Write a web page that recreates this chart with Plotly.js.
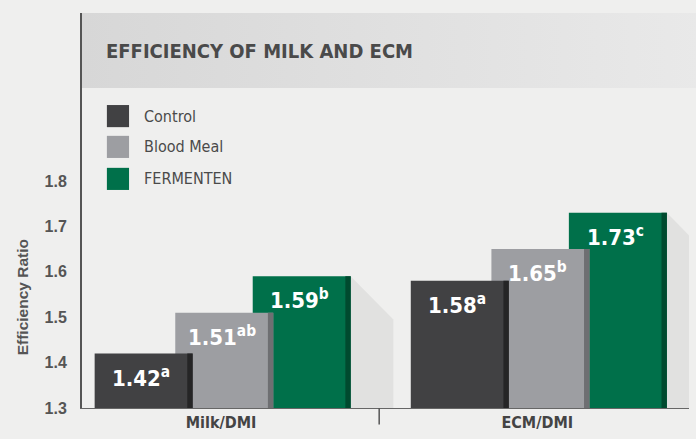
<!DOCTYPE html>
<html>
<head>
<meta charset="utf-8">
<script src="https://cdn.plot.ly/plotly-3.0.1.min.js"></script>
<style>
  html, body { margin: 0; padding: 0; background: #efefee; }
  #chart { width: 696px; height: 439px; }
</style>
</head>
<body>
<div id="chart"></div>
<script>
// Data
const categories = ['Milk/DMI', 'ECM/DMI'];
const seriesNames = ['Control', 'Blood Meal', 'FERMENTEN'];
const control = [1.42, 1.58];
const bloodMeal = [1.51, 1.65];
const fermenten = [1.59, 1.73];
const controlLetters = ['a', 'a'];
const bloodMealLetters = ['ab', 'b'];
const fermentenLetters = ['b', 'c'];
const yTicks = [1.3, 1.4, 1.5, 1.6, 1.7, 1.8];

// Styles
const COND = '"DejaVu Sans Condensed", "Liberation Sans Narrow", sans-serif';
const ARIAL = '"Liberation Sans", Arial, sans-serif';
const faceColors = ['#414143', '#9d9ea2', '#00704a'];
const sideColors = ['#252526', '#6e6f72', '#004a2f'];
const BAR_W = 0.31;
const SIDE_W = 0.017;
const offsets = [-0.40, -0.145, 0.10];

const series = [
  { name: seriesNames[0], y: control, letters: controlLetters },
  { name: seriesNames[1], y: bloodMeal, letters: bloodMealLetters },
  { name: seriesNames[2], y: fermenten, letters: fermentenLetters }
];

// Back-most series first so Control sits in front
const traces = [];
for (let s = series.length - 1; s >= 0; s--) {
  traces.push({
    type: 'bar', x: categories, y: series[s].y, name: series[s].name,
    width: BAR_W, offset: offsets[s],
    marker: { color: faceColors[s], line: { width: 0 } },
    hoverinfo: 'skip', showlegend: false
  });
  // darker right-hand side strip for the 3D look
  traces.push({
    type: 'bar', x: categories, y: series[s].y, name: series[s].name + ' side',
    width: SIDE_W, offset: offsets[s] + BAR_W - SIDE_W,
    marker: { color: sideColors[s], line: { width: 0 } },
    hoverinfo: 'skip', showlegend: false
  });
}

const shapes = [];
const annotations = [];

// soft shadows falling right of each bar
series.forEach((s, si) => {
  s.y.forEach((v, i) => {
    const xr = i + offsets[si] + BAR_W;
    shapes.push({
      type: 'path', layer: 'below', xref: 'x', yref: 'y',
      path: `M${xr},${v} L${xr + 0.135},${v - 0.095} L${xr + 0.135},1.3 L${xr},1.3 Z`,
      fillcolor: 'rgba(0,0,0,0.055)', line: { width: 0 }
    });
    // value labels with significance letters
    annotations.push({
      x: i + offsets[si] + (BAR_W - SIDE_W) / 2, y: v, xref: 'x', yref: 'y',
      yanchor: 'top', yshift: -7, showarrow: false,
      text: v.toFixed(2) + '<sup>' + s.letters[i] + '</sup>',
      font: { family: COND, size: 22, color: '#ffffff', weight: 'bold' }
    });
  });
});

// divider between the two groups
shapes.push({
  type: 'line', xref: 'x', yref: 'paper',
  x0: 0.5, x1: 0.5, y0: 0, y1: -0.042,
  line: { color: '#555555', width: 1.5 }
});

// legend drawn as squares + labels
const legendY = [0.739, 0.661, 0.580];
seriesNames.forEach((n, k) => {
  shapes.push({
    type: 'rect', xref: 'paper', yref: 'paper',
    x0: 0.041, x1: 0.0775, y0: legendY[k] - 0.028, y1: legendY[k] + 0.028,
    fillcolor: faceColors[k], line: { width: 0 }
  });
  annotations.push({
    x: 0.099, y: legendY[k], xref: 'paper', yref: 'paper',
    xanchor: 'left', yanchor: 'middle', showarrow: false, text: n,
    font: { family: COND, size: 16, color: '#4a4a4a' }
  });
});

// title
annotations.push({
  x: 0.037, y: 0.904, xref: 'paper', yref: 'paper',
  xanchor: 'left', yanchor: 'middle', showarrow: false,
  text: 'EFFICIENCY OF MILK AND ECM',
  font: { family: COND, size: 20, color: '#4a4a4a', weight: 'bold' }
});

// y axis title
annotations.push({
  x: -0.099, y: 0.28, xref: 'paper', yref: 'paper',
  xanchor: 'center', yanchor: 'middle', showarrow: false, textangle: -90,
  text: 'Efficiency Ratio',
  font: { family: ARIAL, size: 15.5, color: '#555555', weight: 'bold' }
});

// header band, light grey gradient
const bandSvg = '<svg xmlns="http://www.w3.org/2000/svg" width="100" height="10" preserveAspectRatio="none">' +
  '<defs><linearGradient id="g" x1="0" y1="0" x2="1" y2="0">' +
  '<stop offset="0" stop-color="#d7d7d7"/><stop offset="1" stop-color="#e9e9e9"/></linearGradient></defs>' +
  '<rect width="100" height="10" fill="url(#g)"/></svg>';

const layout = {
  width: 696, height: 439,
  margin: { l: 82, r: 7, t: 13, b: 31 },
  paper_bgcolor: '#efefee', plot_bgcolor: '#efefee',
  barmode: 'overlay',
  showlegend: false,
  images: [{
    source: 'data:image/svg+xml;charset=utf-8,' + encodeURIComponent(bandSvg),
    xref: 'paper', yref: 'paper', x: 0, y: 1, sizex: 1.02, sizey: 0.19,
    xanchor: 'left', yanchor: 'top', sizing: 'stretch', layer: 'below'
  }],
  xaxis: {
    type: 'category', range: [-0.44, 1.48],
    showline: true, linecolor: '#666666', linewidth: 1,
    showgrid: false, zeroline: false, ticks: '',
    tickfont: { family: COND, size: 16, color: '#444444', weight: 'bold' }
  },
  yaxis: {
    range: [1.3, 2.17],
    tickvals: yTicks, ticktext: yTicks.map(v => v.toFixed(1)),
    showline: true, linecolor: '#555555', linewidth: 2,
    showgrid: false, zeroline: false, ticks: '', ticklabelstandoff: 10,
    tickfont: { family: ARIAL, size: 16, color: '#555555', weight: 'bold' }
  },
  shapes: shapes,
  annotations: annotations
};

Plotly.newPlot('chart', traces, layout, { staticPlot: true });
</script>
</body>
</html>
